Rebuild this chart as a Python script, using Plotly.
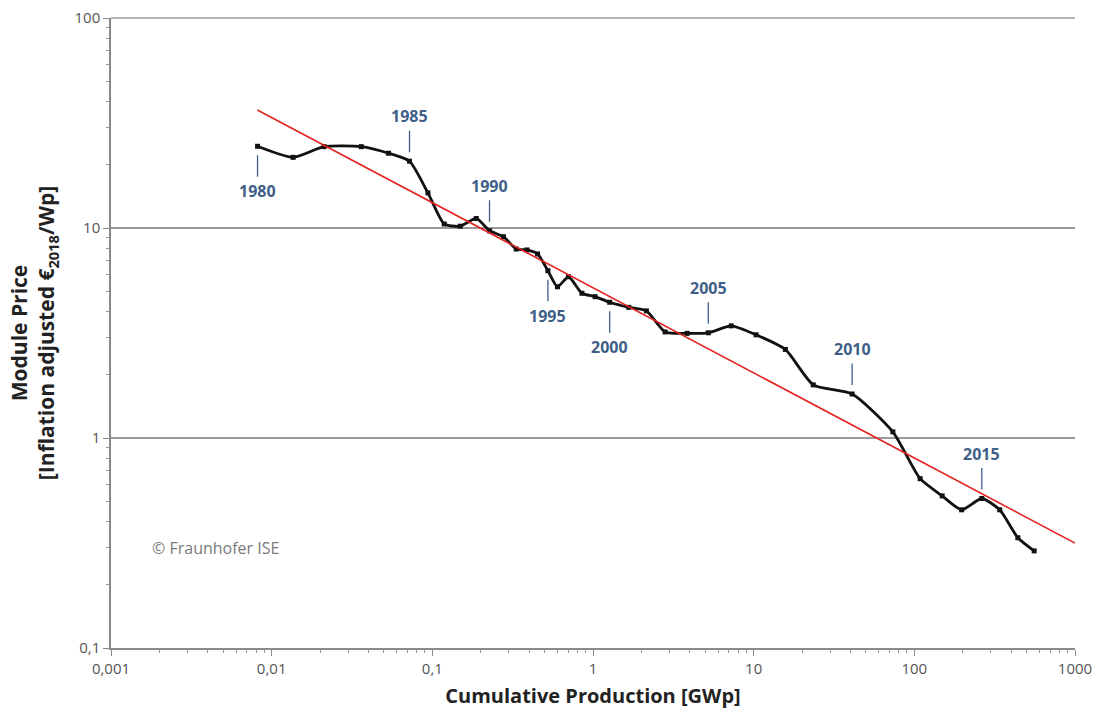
import math
import plotly.graph_objects as go

# ---- data ----
years = list(range(1980, 2019))
cum_production = [0.00817, 0.0136, 0.0212, 0.0361, 0.0534, 0.0721, 0.0939, 0.1186, 0.149, 0.1876,
                  0.227, 0.277, 0.333, 0.388, 0.452, 0.524, 0.601, 0.704, 0.853, 1.03,
                  1.27, 1.67, 2.15, 2.81, 3.85, 5.22, 7.25, 10.35, 15.75, 23.5,
                  41.0, 73.5, 108.7, 149.0, 197.0, 263.0, 340.0, 441.0, 557.0]
module_price = [24.5, 21.7, 24.4, 24.4, 22.7, 20.8, 14.7, 10.45, 10.2, 11.1,
                9.7, 9.09, 7.94, 7.86, 7.52, 6.26, 5.25, 5.86, 4.89, 4.71,
                4.43, 4.19, 4.03, 3.2, 3.15, 3.17, 3.42, 3.1, 2.64, 1.79,
                1.62, 1.07, 0.64, 0.53, 0.455, 0.515, 0.455, 0.335, 0.29]
fit_x = [0.00814, 1000]
fit_y = [36.5, 0.316]
labelled_years = [1980, 1985, 1990, 1995, 2000, 2005, 2010, 2015]
x_tick_vals = [0.001, 0.01, 0.1, 1, 10, 100, 1000]
x_tick_text = ["0,001", "0,01", "0,1", "1", "10", "100", "1000"]
y_tick_vals = [0.1, 1, 10, 100]
y_tick_text = ["0,1", "1", "10", "100"]

# ---- styles ----
FONT = "Open Sans"
YEAR_COLOR = "#3f5f88"
AXIS_COLOR = "#8a8a8a"
label_below = {1980: True, 1985: False, 1990: False, 1995: True, 2000: True,
               2005: False, 2010: False, 2015: False}

fig = go.Figure()

fig.add_trace(go.Scatter(
    x=cum_production, y=module_price, mode="lines+markers",
    line=dict(color="#111111", width=2.8, shape="spline", smoothing=0.6),
    marker=dict(symbol="square", size=5, color="#111111"),
    showlegend=False, hoverinfo="x+y"))

fig.add_trace(go.Scatter(
    x=fit_x, y=fit_y, mode="lines",
    line=dict(color="#e3231f", width=1.6),
    showlegend=False, hoverinfo="skip"))

for yr in labelled_years:
    i = years.index(yr)
    below = label_below[yr]
    fig.add_annotation(
        x=math.log10(cum_production[i]), y=math.log10(module_price[i]), xref="x", yref="y",
        text="<b>%d</b>" % yr, showarrow=True, arrowhead=0,
        arrowwidth=1.3, arrowcolor=YEAR_COLOR,
        ax=0, ay=(45 if below else -45), standoff=9, borderpad=3,
        font=dict(family=FONT, size=16, color=YEAR_COLOR))

fig.add_annotation(
    x=(150 - 111) / 964, y=(648 - 548) / 630, xref="paper", yref="paper",
    text="© Fraunhofer ISE", showarrow=False, xanchor="left", yanchor="middle",
    font=dict(family=FONT, size=16, color="#7a7a7a"))

# top gridline at 100 (edge of range)
fig.add_shape(type="line", xref="paper", yref="paper", x0=0, x1=1, y0=1, y1=1,
              line=dict(color="#9a9a9a", width=1.5), layer="below")

minor_vals = [m * 10 ** e for e in range(-3, 3) for m in range(2, 10)]

fig.update_xaxes(
    type="log", range=[-3, 3], automargin=False,
    tickvals=x_tick_vals, ticktext=x_tick_text,
    ticks="outside", ticklen=6, tickwidth=1.2, tickcolor=AXIS_COLOR,
    minor=dict(tickvals=minor_vals, ticks="outside", ticklen=3, tickcolor="#9a9a9a", showgrid=False),
    showline=True, linecolor=AXIS_COLOR, linewidth=1.5,
    showgrid=False, zeroline=False,
    tickfont=dict(family=FONT, size=15, color="#555555"),
    title=dict(text="<b>Cumulative Production [GWp]</b>", standoff=12,
               font=dict(family=FONT, size=20, color="#222222")))

fig.update_yaxes(
    type="log", range=[-1, 2], automargin=False,
    tickvals=y_tick_vals, ticktext=y_tick_text,
    ticks="outside", ticklen=6, tickwidth=1.2, tickcolor=AXIS_COLOR,
    minor=dict(tickvals=[v for v in minor_vals if 0.1 < v < 100], ticks="outside", ticklen=3,
               tickcolor="#9a9a9a", showgrid=False),
    showline=True, linecolor=AXIS_COLOR, linewidth=1.5,
    showgrid=True, gridcolor="#9a9a9a", gridwidth=1.5, zeroline=False,
    tickfont=dict(family=FONT, size=15, color="#555555"),
    title=dict(text="<b>Module Price<br>[Inflation adjusted €<sub>2018</sub>/Wp]</b>", standoff=14,
               font=dict(family=FONT, size=21, color="#222222")))

fig.update_layout(
    width=1100, height=713,
    margin=dict(l=111, r=25, t=18, b=65),
    paper_bgcolor="white", plot_bgcolor="white",
    font=dict(family=FONT))

fig.write_html("out.html", config={"displayModeBar": False},
               post_script="document.body.style.margin='0';")
